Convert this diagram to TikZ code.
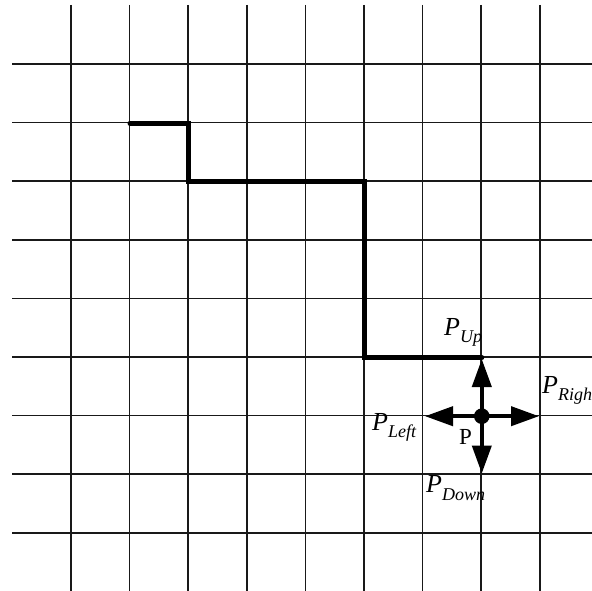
\documentclass[tikz,border=0pt]{standalone}
\usepackage{fontspec}
\setmainfont{Liberation Serif}
\usetikzlibrary{arrows.meta}
\begin{document}
\begin{tikzpicture}[x=1pt,y=-1pt,
  gridline/.style={line width=1.5pt,black!90},
  pathline/.style={line width=5pt,line cap=round,line join=miter},
  dirarrow/.style={line width=4pt,-{Triangle[length=28pt,width=19pt]}},
  lbl/.style={font=\fontsize{26}{30}\selectfont,inner sep=0pt}]
\useasboundingbox (0,0) rectangle (592,591);
\foreach \i in {0,...,8} {
  \draw[gridline] ({71+58.6*\i},5) -- ({71+58.6*\i},591);
  \draw[gridline] (12,{64+58.6*\i}) -- (592,{64+58.6*\i});
}
\coordinate (s0) at (130,123.2);
\coordinate (s1) at (188.6,123.2);
\coordinate (s2) at (188.6,181.8);
\coordinate (s3) at (364,181.8);
\coordinate (s4) at (364,357.6);
\coordinate (s5) at (481.8,357.6);
\draw[pathline] (s0) -- (s1) -- (s2) -- (s3) -- (s4) -- (s5);
\coordinate (P) at (481.8,416.2);
\coordinate (up) at (481.8,359);
\coordinate (dn) at (481.8,473.5);
\coordinate (lf) at (425,416.2);
\coordinate (rt) at (539,416.2);
\draw[dirarrow] (P) -- (up);
\draw[dirarrow] (P) -- (dn);
\draw[dirarrow] (P) -- (lf);
\draw[dirarrow] (P) -- (rt);
\fill (P) circle (7.8);
\node[lbl,anchor=south west] (lup) at (444,347) {\itshape P\raisebox{-0.3em}{\fontsize{18}{21}\selectfont Up}};
\node[lbl,anchor=south west] (lrt) at (542,405) {\itshape P\raisebox{-0.3em}{\fontsize{18}{21}\selectfont Right}};
\node[lbl,anchor=south west] (llf) at (372,442) {\itshape P\raisebox{-0.3em}{\fontsize{18}{21}\selectfont Left}};
\node[lbl,anchor=south west] (ldn) at (426,501) {\itshape P\raisebox{-0.3em}{\fontsize{18}{21}\selectfont Down}};
\node[lbl,anchor=south west] (lp) at (459,445) {\fontsize{23}{26}\selectfont P};
\end{tikzpicture}
\end{document}
